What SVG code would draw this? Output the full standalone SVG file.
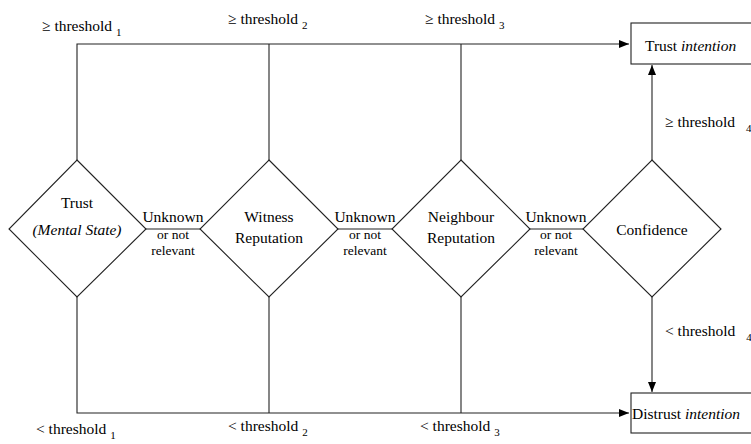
<svg xmlns="http://www.w3.org/2000/svg" width="751" height="444" viewBox="0 0 751 444" font-family="'Liberation Serif', 'Times New Roman', 'DejaVu Serif', serif">
<style>
text{font-family:'Liberation Serif','Times New Roman','DejaVu Serif',serif;font-size:15.5px;fill:#000}
.c{text-anchor:middle}
.i{font-style:italic}
.s{font-size:11px}
.sm{font-size:13.5px}
.ln{stroke:#222;stroke-width:1.1;fill:none}
.nd{stroke:#222;stroke-width:1.1;fill:#fff}
</style>
<defs>
<marker id="ah" viewBox="0 0 10 8" refX="10" refY="4" markerWidth="10" markerHeight="8" markerUnits="userSpaceOnUse" orient="auto">
<path d="M0,0 L10,4 L0,8 z" fill="#000"/>
</marker>
</defs>
<g id="connectors">
<polyline class="ln" points="77,160 77,44 629,44" marker-end="url(#ah)"/>
<line class="ln" x1="269" y1="44" x2="269" y2="160"/>
<line class="ln" x1="461" y1="44" x2="461" y2="160"/>
<polyline class="ln" points="77,297 77,413 629,413" marker-end="url(#ah)"/>
<line class="ln" x1="269" y1="413" x2="269" y2="297"/>
<line class="ln" x1="461" y1="413" x2="461" y2="297"/>
<line class="ln" x1="146" y1="229" x2="200" y2="229"/>
<line class="ln" x1="338" y1="229" x2="392" y2="229"/>
<line class="ln" x1="530" y1="229" x2="583" y2="229"/>
<line class="ln" x1="652" y1="160" x2="652" y2="65" marker-end="url(#ah)"/>
<line class="ln" x1="652" y1="297" x2="652" y2="392" marker-end="url(#ah)"/>
<text x="42" y="31">≥ threshold <tspan class="s" dy="5">1</tspan></text>
<text x="228" y="24">≥ threshold <tspan class="s" dy="5">2</tspan></text>
<text x="425" y="24">≥ threshold <tspan class="s" dy="5">3</tspan></text>
<text x="36" y="434">&lt; threshold <tspan class="s" dy="5">1</tspan></text>
<text x="228" y="431">&lt; threshold <tspan class="s" dy="5">2</tspan></text>
<text x="420" y="431">&lt; threshold <tspan class="s" dy="5">3</tspan></text>
<text x="665" y="127">≥ threshold <tspan class="s" dx="7" dy="5">4</tspan></text>
<text x="665" y="336">&lt; threshold <tspan class="s" dx="7" dy="5">4</tspan></text>
<g id="lbl1"><text class="c" x="173" y="222">Unknown</text><text class="c sm" x="173" y="239">or not</text><text class="c sm" x="173" y="255">relevant</text></g>
<g id="lbl2"><text class="c" x="365" y="222">Unknown</text><text class="c sm" x="365" y="239">or not</text><text class="c sm" x="365" y="255">relevant</text></g>
<g id="lbl3"><text class="c" x="556" y="222">Unknown</text><text class="c sm" x="556" y="239">or not</text><text class="c sm" x="556" y="255">relevant</text></g>
</g>
<g id="trust-mental">
<polygon class="nd" points="77,160 146,229 77,297 9,229"/>
<text class="c" x="77" y="208">Trust</text>
<text class="c i" x="77" y="235">(Mental State)</text>
</g>
<g id="witness">
<polygon class="nd" points="269,160 338,229 269,297 200,229"/>
<text class="c" x="269" y="222">Witness</text>
<text class="c" x="269" y="243">Reputation</text>
</g>
<g id="neighbour">
<polygon class="nd" points="461,160 530,229 461,297 392,229"/>
<text class="c" x="461" y="222">Neighbour</text>
<text class="c" x="461" y="243">Reputation</text>
</g>
<g id="confidence">
<polygon class="nd" points="652,160 721,229 652,297 583,229"/>
<text class="c" x="652" y="235">Confidence</text>
</g>
<g id="trust-intention">
<rect class="nd" x="631" y="23" width="130" height="41"/>
<text x="645" y="51">Trust <tspan class="i">intention</tspan></text>
</g>
<g id="distrust-intention">
<rect class="nd" x="631" y="393" width="130" height="40"/>
<text x="632" y="419">Distrust  <tspan class="i">intention</tspan></text>
</g>
</svg>
